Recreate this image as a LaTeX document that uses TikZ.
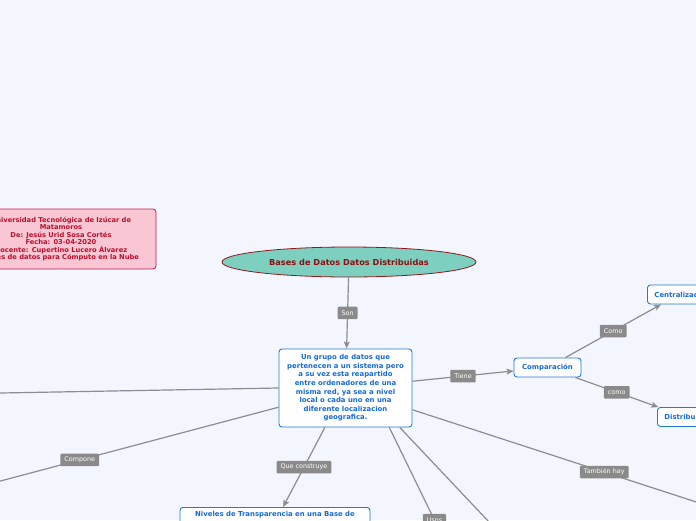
\documentclass[tikz,border=0pt]{standalone}
\usepackage{fontspec}
\setmainfont{DejaVu Sans}
\usetikzlibrary{arrows.meta,shapes.geometric}
\definecolor{bg}{HTML}{F3F6FE}
\definecolor{pinkfill}{HTML}{F9C6D3}
\definecolor{pinkdraw}{HTML}{C41E4A}
\definecolor{pinktext}{HTML}{B8102E}
\definecolor{tealfill}{HTML}{7DCFC0}
\definecolor{darkred}{HTML}{8E1B1B}
\definecolor{titletext}{HTML}{8B1010}
\definecolor{bluedraw}{HTML}{2279D6}
\definecolor{bluetext}{HTML}{176BD2}
\definecolor{edgegrey}{HTML}{8D8D8D}
\definecolor{lblgrey}{HTML}{8A8A8A}
\tikzset{
  infobox/.style={draw=pinkdraw, fill=pinkfill, rounded corners=3pt, line width=0.8pt,
    minimum width=190pt, minimum height=60pt, align=center, text=pinktext,
    font=\fontsize{6.7}{7.5}\selectfont\bfseries},
  topic/.style={ellipse, draw=darkred, fill=tealfill, line width=0.8pt, minimum width=254pt,
    minimum height=30pt, inner sep=0pt, text=titletext, font=\fontsize{8.2}{10}\selectfont\bfseries},
  bluebox/.style={draw=bluedraw, fill=white, rounded corners=3pt, line width=0.9pt,
    align=center, text=bluetext, font=\fontsize{6.9}{8.6}\selectfont\bfseries,
    minimum height=19pt, inner xsep=7pt},
  edge/.style={draw=edgegrey, line width=1.2pt,
    -{Stealth[length=7pt,width=6pt,inset=1.5pt]}},
  lbl/.style={fill=lblgrey, text=white, font=\fontsize{6.4}{7}\selectfont,
    inner xsep=4pt, inner ysep=2.5pt, rounded corners=1pt, minimum height=12.5pt}
}
\begin{document}
\begin{tikzpicture}[x=1pt,y=-1pt]
\useasboundingbox (0,0) rectangle (696,520);
\fill[bg] (0,0) rectangle (696,520);
\clip (0,0) rectangle (696,520);

\node[infobox] (info) at (61,239) {Universidad Tecnológica de Izúcar de\\Matamoros\\De: Jesús Urid Sosa Cortés\\Fecha: 03-04-2020\\Docente: Cupertino Lucero Álvarez\\Bases de datos para Cómputo en la Nube};

\node[topic] (title) at (349,262) {Bases de Datos Datos Distribuidas};

\node[bluebox, minimum width=133pt, minimum height=78pt] (main) at (345.5,388)
  {\raisebox{0pt}[\height][\depth]{}Un grupo de datos que\\pertenecen a un sistema pero\\a su vez esta reapartido\\entre ordenadores de una\\misma red, ya sea a nivel\\local o cada uno en una\\diferente localizacion\\geografica.};

\node[bluebox, minimum width=67pt] (comp) at (547.5,367.5) {Comparación};
\node[bluebox, anchor=west] (cent) at (647,294.5) {Centralizada};
\node[bluebox, anchor=west] (dist) at (657,417) {Distribuida};
\node[bluebox, anchor=north, minimum width=190pt, minimum height=30pt] (niv) at (275,507)
  {Niveles de Transparencia en una Base de\\[8pt]\mbox{}};

\coordinate (usosT) at (479.7,613);
\coordinate (drT) at (574,612);
\coordinate (tamT) at (796,534.4);
\coordinate (compT) at (-119,512.7);
\coordinate (leftT) at (-350,399.3);

\draw[edge] (title) -- node[lbl]{Son} (main);
\draw[edge] (main) -- node[lbl]{Tiene} (comp);
\draw[edge] (comp) -- node[lbl]{Como} (cent);
\draw[edge] (comp) -- node[lbl]{como} (dist);
\draw[edge] (main) -- node[lbl]{Que construye} (niv);
\draw[edge] (main.-42) -- node[lbl]{Usos} (usosT);
\draw[edge] (main.-36) -- (drT);
\draw[edge] (main.-18) -- node[lbl]{También hay} (tamT);
\draw[edge] (main.196) -- node[lbl]{Compone} (compT);
\draw[edge] (main.west) -- (leftT);
\end{tikzpicture}
\end{document}
